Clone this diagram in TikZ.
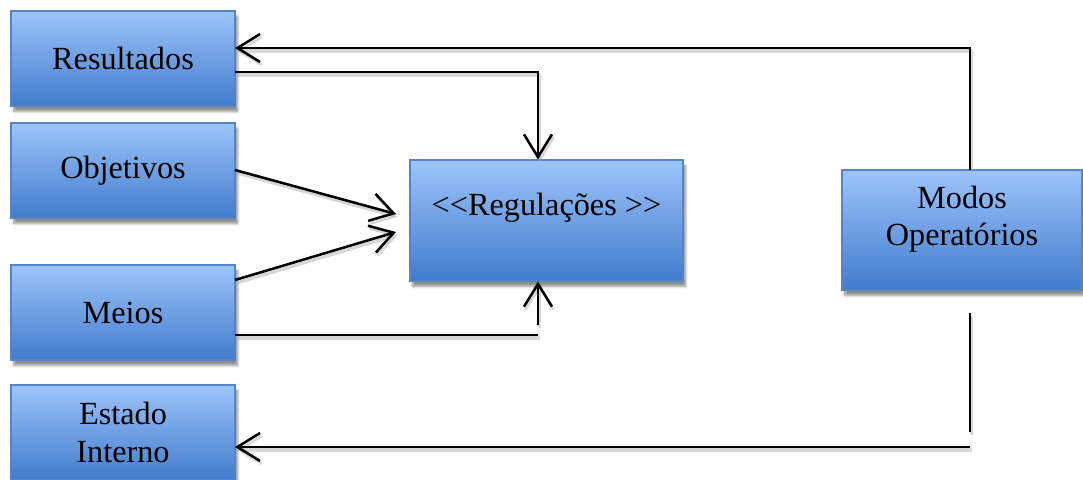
\documentclass[tikz,border=0pt]{standalone}
\usepackage{fontspec}
\setmainfont{Liberation Serif}
\usetikzlibrary{arrows.meta,shadows.blur}

\definecolor{boxtop}{RGB}{158,196,250}
\definecolor{boxbot}{RGB}{64,124,204}
\definecolor{boxline}{RGB}{86,132,200}

\tikzset{
  box/.style={rectangle, draw=boxline, line width=0.8pt,
    top color=boxtop, bottom color=boxbot,
    blur shadow={shadow xshift=2pt, shadow yshift=-4pt, shadow blur steps=6, shadow opacity=45},
    inner sep=0pt, align=center,
    font=\fontsize{24.2}{28}\selectfont},
  txt/.style={inner sep=0pt, align=center, font=\fontsize{24.2}{28}\selectfont},
  wire/.style={line width=1.9pt, black,
    preaction={draw=black!35, opacity=0.45, line width=2.4pt,
      transform canvas={shift={(1.2pt,-2.2pt)}}}},
  arr/.style={wire, -{Straight Barb[length=17pt, width=21pt, line width=1.9pt]}}
}

\begin{document}
\begin{tikzpicture}[x=0.75pt, y=-0.75pt]
  \useasboundingbox (0,0) rectangle (1083,479);

  % left column
  \node[box, minimum width=224*0.75pt, minimum height=95*0.75pt] (res) at (123,58.5) {Resultados};
  \node[box, minimum width=224*0.75pt, minimum height=95*0.75pt] (obj) at (123,170.5) {Objetivos};
  \node[box, minimum width=224*0.75pt, minimum height=95*0.75pt] (mei) at (123,312.5) {Meios};
  \node[box, minimum width=224*0.75pt, minimum height=95*0.75pt] (est) at (123,432.5) {Estado\\Interno};

  % centre and right boxes
  \node[box, minimum width=273*0.75pt, minimum height=121*0.75pt] (reg) at (546.5,220.5) {};
  \node[txt] (regt) at (546.5,208) {<{}<Regulações >{}>};
  \node[box, minimum width=240*0.75pt, minimum height=120*0.75pt] (mod) at (962,230) {};
  \node[txt] (modt) at (962,219) {Modos\\Operatórios};

  % attachment points
  \coordinate (resA) at (235,48);
  \coordinate (resB) at (235,72);
  \coordinate (topC) at (538,72);
  \coordinate (objA) at (235,170);
  \coordinate (objT) at (396,214);
  \coordinate (meiA) at (235,280);
  \coordinate (meiT) at (396,232);
  \coordinate (meiB) at (235,335);
  \coordinate (botC) at (538,335);
  \coordinate (botS) at (538,325);
  \coordinate (modT) at (970,170);
  \coordinate (modC) at (970,48);
  \coordinate (modS) at (970,313);
  \coordinate (modE) at (970,432);
  \coordinate (modF) at (970,447);
  \coordinate (estA) at (235,447);

  % connectors
  \draw[arr] (modT) -- (modC) -- (resA);
  \draw[arr] (resB) -- (topC) -- (topC |- reg.north);
  \draw[arr] (objA) -- (objT);
  \draw[arr] (meiA) -- (meiT);
  \draw[wire] (meiB) -- (botC);
  \draw[arr] (botS) -- (botS |- reg.south);
  \draw[wire] (modS) -- (modE);
  \draw[arr] (modF) -- (estA);
\end{tikzpicture}
\end{document}
